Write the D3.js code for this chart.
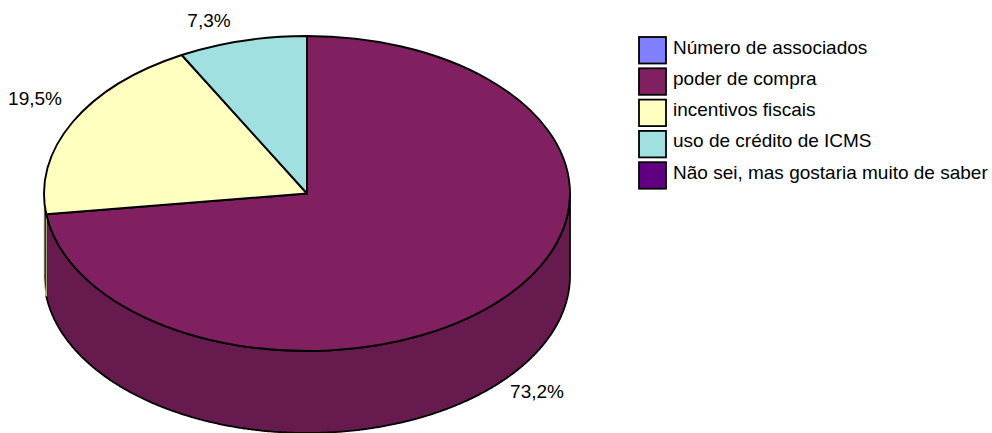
<!DOCTYPE html>
<html>
<head>
<meta charset="utf-8">
<script src="https://cdn.jsdelivr.net/npm/d3@7"></script>
<style>
    html, body { margin: 0; padding: 0; background: #fff; }
    svg { display: block; }
    text { font-family: "Liberation Sans", Arial, sans-serif; font-size: 19px; fill: #000; }
</style>
</head>
<body>
<div id="chart"></div>
<script>
// chart data
const categories = ["Número de associados", "poder de compra", "incentivos fiscais", "uso de crédito de ICMS", "Não sei, mas gostaria muito de saber"];
const shares = [0, 72.9, 19.2, 7.9, 0];
const percentLabels = ["", "73,2%", "19,5%", "7,3%", ""];
const colors = ["#8080FF", "#802060", "#FFFFC0", "#A0E0E0", "#600080"];
const sideColors = ["#6666CC", "#661A4D", "#000000", "#80B3B3", "#4D0066"];
const sideStrokes = ["#000", "#000", "#D8D8A8", "#000", "#000"];
const sideStrokeWidths = [1.8, 1.8, 1, 1.8, 1.8];

const width = 992, height = 433;
const cx = 307, cy = 193.5, rx = 263, ry = 157.5, depth = 82;

const svg = d3.select("#chart").append("svg")
    .attr("width", width)
    .attr("height", height);

// pie starts at the top and goes clockwise
const pie = d3.pie().value(d => d).sort(null);
const slices = pie(shares);

// point on the tilted ellipse, angle clockwise from top
const px = a => cx + rx * Math.sin(a);
const py = a => cy - ry * Math.cos(a);

const line = d3.line();

// side walls, only the part facing us
const wallG = svg.append("g");
slices.forEach((s, i) => {
    let a0 = Math.max(s.startAngle, Math.PI / 2);
    let a1 = Math.min(s.endAngle, Math.PI * 1.5);
    if (a1 <= a0) return;
    let top = d3.range(a0, a1, 0.005).concat([a1]).map(a => [px(a), py(a)]);
    let bottom = top.map(p => [p[0], p[1] + depth]).reverse();
    wallG.append("path")
        .attr("d", line(top.concat(bottom)) + "Z")
        .attr("fill", sideColors[i])
        .attr("stroke", sideStrokes[i])
        .attr("stroke-width", sideStrokeWidths[i]);
});

// top face
const arc = d3.arc().innerRadius(0).outerRadius(rx);
svg.append("g")
    .attr("transform", `translate(${cx}, ${cy}) scale(1, ${ry / rx})`)
    .selectAll("path")
    .data(slices.filter(d => d.value > 0))
    .enter().append("path")
    .attr("d", arc)
    .attr("fill", d => colors[d.index])
    .attr("stroke", "#000")
    .attr("stroke-width", 1.9)
    .attr("vector-effect", "non-scaling-stroke")
    .attr("stroke-linejoin", "round");

// percent labels
const labelPos = { 1: [537, 398], 2: [35, 105], 3: [209, 27] };
svg.append("g").selectAll("text")
    .data(slices.filter(d => d.value > 0))
    .enter().append("text")
    .attr("x", d => labelPos[d.index][0])
    .attr("y", d => labelPos[d.index][1])
    .attr("text-anchor", "middle")
    .text(d => percentLabels[d.index]);

// legend
const legendY = d3.scaleBand()
    .domain(categories)
    .range([35, 191.5]);

const legend = svg.append("g").selectAll("g")
    .data(categories)
    .enter().append("g")
    .attr("transform", d => `translate(639, ${legendY(d)})`);

legend.append("rect")
    .attr("y", 2)
    .attr("width", 27)
    .attr("height", 26.5)
    .attr("fill", (d, i) => colors[i])
    .attr("stroke", "#000")
    .attr("stroke-width", 1.8);

legend.append("text")
    .attr("x", 34)
    .attr("y", 18.5)
    .text(d => d);
</script>
</body>
</html>
